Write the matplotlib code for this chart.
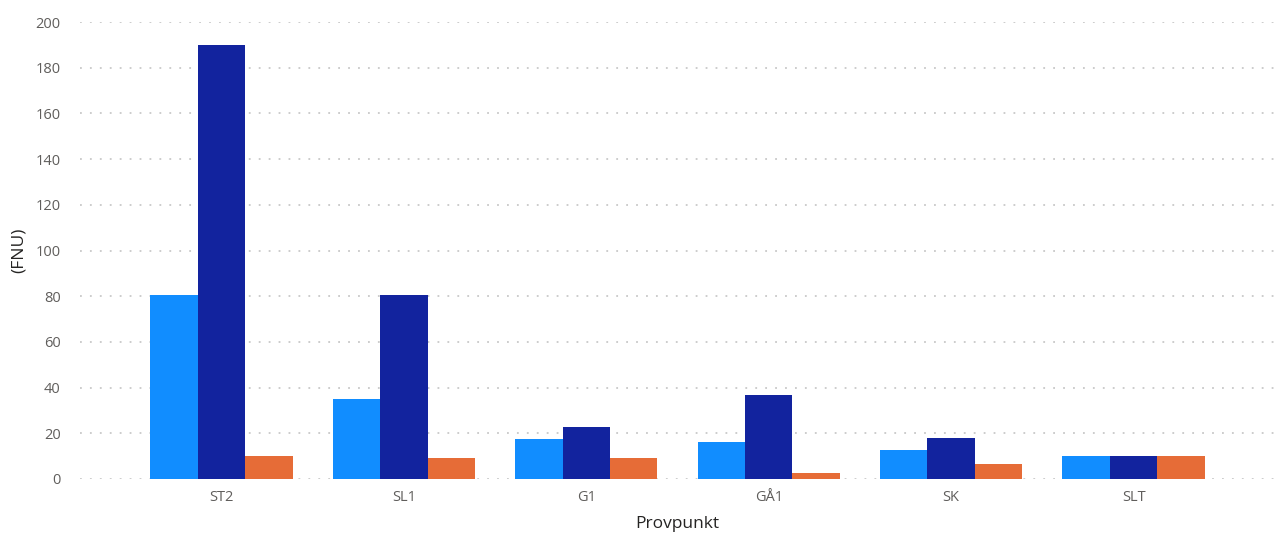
import matplotlib.pyplot as plt
import numpy as np

plt.rcParams['font.family'] = ['Open Sans', 'DejaVu Sans']

provpunkt = ['ST2', 'SL1', 'G1', 'GÅ1', 'SK', 'SLT']
serie1 = [80.5, 35.0, 17.5, 16.2, 12.7, 10.0]
serie2 = [190.0, 80.5, 22.8, 36.8, 18.0, 10.0]
serie3 = [10.0, 9.2, 9.2, 2.6, 6.6, 10.0]

farger = ['#118DFF', '#12239E', '#E66C37']

fig = plt.figure(figsize=(12.78, 5.37), dpi=100)
ax = fig.add_axes([80 / 1278, 58 / 537, 1195 / 1278, 457 / 537])

x = np.arange(len(provpunkt))
b = 0.26
for i, (vals, c) in enumerate(zip([serie1, serie2, serie3], farger)):
    ax.bar(x + (i - 1) * b, vals, width=b, color=c, zorder=3)

ax.set_xlim(-0.775, len(provpunkt) - 0.225)
ax.set_ylim(0, 200)
ax.set_yticks(range(0, 201, 20))
ax.set_xticks(x)
ax.set_xticklabels(provpunkt)

ax.grid(axis='y', color='#C8C8C8', linestyle=(0, (1, 4.5)), linewidth=1.3, zorder=0)
for s in ax.spines.values():
    s.set_visible(False)
ax.tick_params(axis='both', length=0, labelsize=10.5, labelcolor='#605E5C')
ax.tick_params(axis='y', pad=14)
ax.tick_params(axis='x', pad=8)

ax.set_xlabel('Provpunkt', fontsize=12.5, color='#252423', labelpad=8)
ax.set_ylabel('(FNU)', fontsize=12.5, color='#252423', labelpad=6)

fig.savefig('out.png', dpi=100)
